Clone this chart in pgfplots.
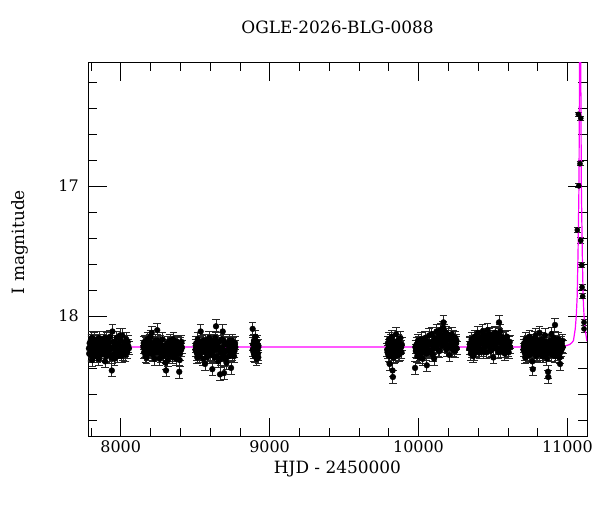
\documentclass[border=0pt]{standalone}
\usepackage{fontspec}
\setmainfont{DejaVu Serif}
\usepackage{pgfplots}
\pgfplotsset{compat=1.18}
\definecolor{mag}{RGB}{255,0,255}
\pgfplotsset{basestyle/.style={only marks, mark=*, mark size=2.9bp, black,
  error bars/.cd, y dir=both, y fixed=0.05,
  error bar style={black!85, line width=1bp},
  error mark options={black!85, line width=1bp, mark size=3.8bp, rotate=90}}}
\begin{document}
\begin{tikzpicture}
\begin{axis}[
  scale only axis, width=499bp, height=374.5bp,
  xmin=7780, xmax=11132, ymin=16.05, ymax=18.93, y dir=reverse,
  xtick={8000,9000,10000,11000},
  minor xtick={7800,8200,8400,8600,8800,9200,9400,9600,9800,10200,10400,10600,10800},
  ytick={17,18},
  minor ytick={16.2,16.4,16.6,16.8,17.2,17.4,17.6,17.8,18.2,18.4,18.6,18.8},
  tick align=inside,
  major tick length=19bp, minor tick length=9bp,
  every tick/.style={black, line width=0.6bp},
  axis line style={line width=0.8bp},
  scaled x ticks=false, scaled y ticks=false,
  /pgf/number format/1000 sep={},
  /pgf/number format/assume math mode=true,
  tick label style={font=\fontsize{16}{19}\selectfont},
  yticklabel style={xshift=-5.7bp},
  title={OGLE-2026-BLG-0088},
  title style={font=\fontsize{17}{20}\selectfont, at={(0.5,1.0606)}, anchor=base},
  xlabel={HJD - 2450000},
  xlabel style={font=\fontsize{17}{20}\selectfont, at={(0.5,-0.0977)}, anchor=base},
  ylabel={I magnitude},
  ylabel style={font=\fontsize{17}{20}\selectfont, at={(-0.1275,0.52)}, anchor=base},
]
% baseline seasons
\addplot[basestyle]
coordinates {
(7786,18.25) (7791,18.21) (7795,18.30) (7799,18.19) (7803,18.27) (7809,18.34) (7812,18.22) (7816,18.26)
(7821,18.18) (7826,18.29) (7830,18.24) (7835,18.20) (7839,18.31) (7844,18.23) (7850,18.27) (7855,18.17)
(7860,18.25) (7866,18.30) (7871,18.21) (7877,18.26) (7882,18.19) (7888,18.28) (7895,18.35) (7899,18.23)
(7905,18.18) (7911,18.27) (7916,18.22) (7922,18.30) (7928,18.16) (7933,18.25) (7940,18.42) (7944,18.12)
(7949,18.24) (7955,18.29) (7961,18.20) (7967,18.26) (7973,18.17) (7979,18.31) (7985,18.22) (7992,18.27)
(7998,18.19) (8004,18.24) (8010,18.15) (8017,18.29) (8023,18.21) (8030,18.26) (8037,18.18) (8044,18.28)
(8050,18.23) (8055,18.25)
(8152,18.24) (8157,18.28) (8161,18.20) (8166,18.31) (8170,18.22) (8175,18.26) (8180,18.18) (8185,18.29)
(8190,18.23) (8195,18.27) (8200,18.16) (8208,18.13) (8212,18.25) (8218,18.30) (8223,18.21) (8229,18.27)
(8234,18.19) (8240,18.24) (8245,18.11) (8250,18.28) (8256,18.22) (8261,18.33) (8267,18.20) (8272,18.26)
(8278,18.29) (8283,18.23) (8289,18.31) (8295,18.25) (8300,18.36) (8304,18.42) (8309,18.27) (8314,18.21)
(8320,18.30) (8325,18.24) (8331,18.19) (8336,18.28) (8342,18.22) (8348,18.26) (8353,18.18) (8359,18.30)
(8364,18.23) (8370,18.27) (8375,18.20) (8381,18.25) (8387,18.29) (8393,18.43) (8396,18.34) (8401,18.22)
(8406,18.26) (8410,18.24)
(8502,18.26) (8507,18.21) (8512,18.29) (8517,18.18) (8522,18.25) (8527,18.31) (8532,18.23) (8537,18.12)
(8542,18.27) (8547,18.20) (8552,18.33) (8557,18.24) (8562,18.28) (8566,18.37) (8571,18.19) (8577,18.26)
(8582,18.22) (8588,18.30) (8593,18.17) (8598,18.25) (8604,18.29) (8609,18.21) (8615,18.41) (8620,18.27)
(8626,18.19) (8631,18.32) (8636,18.23) (8640,18.08) (8645,18.26) (8651,18.20) (8656,18.35) (8661,18.24)
(8667,18.45) (8672,18.28) (8678,18.18) (8685,18.12) (8689,18.30) (8694,18.44) (8699,18.22) (8705,18.27)
(8710,18.36) (8716,18.21) (8721,18.26) (8727,18.31) (8733,18.19) (8741,18.40) (8746,18.25) (8752,18.29)
(8758,18.22) (8764,18.27) (8770,18.24)
(8886,18.10) (8889,18.22) (8892,18.28) (8895,18.19) (8898,18.25) (8901,18.31) (8904,18.16) (8907,18.27)
(8910,18.22) (8913,18.33) (8916,18.20) (8919,18.26) (8922,18.29) (8925,18.23)
(9790,18.26) (9794,18.21) (9798,18.30) (9802,18.18) (9806,18.37) (9810,18.25) (9814,18.22) (9818,18.29)
(9822,18.16) (9826,18.42) (9828,18.47) (9832,18.24) (9836,18.27) (9840,18.20) (9845,18.31) (9849,18.14)
(9853,18.23) (9857,18.28) (9862,18.19) (9866,18.26) (9870,18.21) (9875,18.29) (9879,18.17) (9884,18.24)
(9888,18.22)
(9977,18.40) (9982,18.27) (9987,18.22) (9992,18.31) (9997,18.19) (10002,18.26) (10007,18.23) (10012,18.29)
(10018,18.18) (10023,18.25) (10028,18.33) (10033,18.21) (10039,18.27) (10044,18.17) (10050,18.24) (10056,18.38)
(10061,18.20) (10066,18.26) (10072,18.15) (10077,18.22) (10083,18.28) (10088,18.14) (10094,18.21) (10099,18.25)
(10105,18.33) (10110,18.17) (10116,18.22) (10121,18.12) (10127,18.19) (10132,18.26) (10138,18.14) (10143,18.20)
(10149,18.11) (10155,18.17) (10160,18.23) (10166,18.09) (10168,18.05) (10173,18.16) (10178,18.21) (10184,18.13)
(10190,18.19) (10195,18.24) (10201,18.15) (10207,18.30) (10212,18.18) (10218,18.22) (10224,18.14) (10230,18.26)
(10236,18.19) (10242,18.23) (10248,18.17) (10253,18.21) (10257,18.25)
(10342,18.25) (10347,18.21) (10352,18.29) (10357,18.18) (10362,18.24) (10367,18.31) (10372,18.22) (10377,18.16)
(10382,18.27) (10388,18.20) (10393,18.25) (10398,18.13) (10404,18.23) (10409,18.28) (10414,18.17) (10420,18.21)
(10425,18.26) (10431,18.12) (10436,18.19) (10442,18.24) (10447,18.15) (10453,18.22) (10458,18.28) (10464,18.11)
(10469,18.18) (10475,18.23) (10480,18.14) (10486,18.20) (10491,18.26) (10497,18.16) (10503,18.32) (10508,18.19)
(10514,18.13) (10519,18.22) (10525,18.17) (10530,18.25) (10536,18.14) (10541,18.05) (10546,18.20) (10552,18.27)
(10557,18.16) (10563,18.22) (10568,18.18) (10574,18.25) (10580,18.29) (10585,18.17) (10591,18.23) (10597,18.20)
(10603,18.26) (10609,18.21) (10615,18.24)
(10705,18.26) (10710,18.21) (10715,18.29) (10720,18.18) (10725,18.24) (10730,18.31) (10735,18.20) (10740,18.27)
(10745,18.16) (10750,18.23) (10755,18.29) (10760,18.19) (10765,18.35) (10768,18.41) (10772,18.25) (10777,18.21)
(10782,18.28) (10787,18.15) (10792,18.24) (10797,18.30) (10802,18.19) (10808,18.26) (10813,18.13) (10818,18.22)
(10823,18.28) (10829,18.18) (10834,18.25) (10839,18.31) (10845,18.20) (10850,18.15) (10855,18.27) (10861,18.22)
(10866,18.29) (10870,18.43) (10872,18.47) (10877,18.24) (10882,18.19) (10888,18.26) (10893,18.14) (10898,18.21)
(10904,18.28) (10909,18.17) (10914,18.23) (10917,18.07) (10922,18.26) (10928,18.20) (10933,18.29) (10938,18.18)
(10944,18.24) (10949,18.32) (10951,18.37) (10956,18.21) (10961,18.26) (10966,18.19) (10969,18.24)
};
\addplot[basestyle]
coordinates {
(7788,18.29) (7797,18.23) (7806,18.17) (7814,18.31) (7824,18.25) (7833,18.28) (7842,18.19) (7852,18.33)
(7863,18.22) (7874,18.29) (7885,18.24) (7893,18.17) (7902,18.31) (7913,18.20) (7925,18.26) (7936,18.32)
(7946,18.20) (7958,18.33) (7970,18.23) (7982,18.28) (7995,18.15) (8007,18.31) (8020,18.25) (8033,18.30)
(8047,18.20)
(8154,18.21) (8163,18.27) (8172,18.32) (8182,18.24) (8192,18.19) (8203,18.28) (8215,18.22) (8226,18.33)
(8237,18.28) (8248,18.19) (8259,18.25) (8270,18.31) (8281,18.18) (8292,18.28) (8302,18.23) (8317,18.34)
(8328,18.27) (8339,18.21) (8350,18.32) (8362,18.26) (8373,18.33) (8384,18.21) (8399,18.29) (8408,18.20)
(8504,18.23) (8514,18.32) (8525,18.21) (8535,18.28) (8545,18.24) (8555,18.19) (8568,18.27) (8580,18.32)
(8591,18.24) (8602,18.20) (8613,18.30) (8624,18.24) (8634,18.17) (8648,18.31) (8659,18.20) (8670,18.33)
(8681,18.25) (8692,18.19) (8702,18.33) (8713,18.27) (8724,18.22) (8736,18.28) (8749,18.19) (8761,18.31)
(8768,18.21)
(8887,18.26) (8897,18.30) (8906,18.21) (8915,18.24) (8924,18.32)
(9792,18.28) (9800,18.23) (9808,18.31) (9816,18.19) (9824,18.26) (9834,18.32) (9843,18.23) (9851,18.27)
(9860,18.21) (9868,18.30) (9877,18.25) (9886,18.28)
(9979,18.24) (9990,18.28) (10000,18.21) (10010,18.32) (10020,18.24) (10031,18.28) (10041,18.21) (10053,18.29)
(10064,18.22) (10075,18.27) (10086,18.20) (10097,18.30) (10108,18.24) (10119,18.18) (10130,18.22) (10141,18.27)
(10152,18.15) (10163,18.20) (10176,18.12) (10187,18.26) (10198,18.18) (10210,18.24) (10221,18.20) (10233,18.16)
(10245,18.27) (10255,18.19)
(10344,18.22) (10355,18.27) (10365,18.20) (10375,18.29) (10385,18.23) (10396,18.18) (10406,18.26) (10417,18.20)
(10428,18.16) (10439,18.28) (10450,18.19) (10461,18.23) (10472,18.15) (10483,18.27) (10494,18.22) (10505,18.16)
(10516,18.25) (10527,18.20) (10538,18.28) (10549,18.12) (10560,18.24) (10571,18.21) (10582,18.27) (10594,18.16)
(10606,18.28) (10613,18.20)
(10707,18.23) (10717,18.32) (10727,18.21) (10737,18.24) (10748,18.30) (10758,18.22) (10770,18.28) (10780,18.17)
(10790,18.31) (10800,18.23) (10810,18.29) (10821,18.19) (10832,18.31) (10842,18.24) (10853,18.20) (10863,18.33)
(10875,18.27) (10885,18.22) (10896,18.30) (10906,18.22) (10919,18.31) (10930,18.24) (10941,18.21) (10953,18.28)
(10964,18.23)
};
% event points
\addplot[only marks, mark=*, mark size=2.6bp, black,
  error bars/.cd, y dir=both, y explicit,
  error bar style={black!85, line width=1bp},
  error mark options={black!85, line width=1bp, mark size=3.5bp, rotate=90}]
coordinates {
(11074,16.45) +- (0,0.015)
(11090,16.48) +- (0,0.015)
(11085,16.83) +- (0,0.015)
(11077,17.00) +- (0,0.015)
(11067,17.34) +- (0,0.02)
(11090,17.42) +- (0,0.02)
(11097,17.61) +- (0,0.02)
(11099,17.78) +- (0,0.02)
(11103,17.85) +- (0,0.02)
(11112,18.05) +- (0,0.025)
(11112,18.10) +- (0,0.025)
};
% model
\addplot[mag, line width=1.2bp] coordinates {
(7780,18.24) (10900,18.24) (10976,18.235) (11016,18.22) (11031,18.205) (11041,18.19)
(11053,18.10) (11060,18.00) (11066,17.85) (11072,17.5) (11078,17.0) (11082,16.05)
(11084,15.5) (11086,15.2) (11088,15.5) (11090,16.05) (11094,17.0) (11100,17.5)
(11106,17.85) (11112,18.0) (11119,18.10) (11131,18.19) (11132,18.195)
};
\end{axis}
\path ([xshift=-88bp,yshift=-75.2bp]current axis.south west) rectangle ([xshift=13bp,yshift=62.3bp]current axis.north east);
\end{tikzpicture}
\end{document}
